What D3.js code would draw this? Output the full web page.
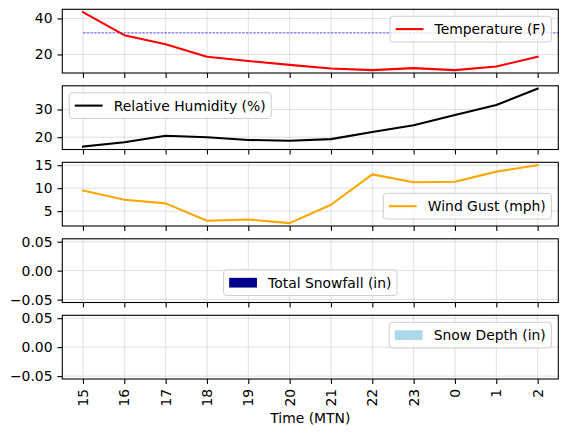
<!DOCTYPE html>
<html lang="en">
<head>
    <meta charset="utf-8">
    <title>Weather</title>
    <script type="text/javascript" src="https://d3js.org/d3.v7.min.js"></script>
    <style>
        body { margin: 0; background: white; }
        svg { display: block; font-family: "DejaVu Sans", sans-serif; }
        .grid line { stroke: #b0b0b0; stroke-opacity: 0.5; stroke-width: 0.8; }
    </style>
</head>
<body>
    <div id="chart"></div>
    <script type="text/javascript">
        // data
        const hours = ["15", "16", "17", "18", "19", "20", "21", "22", "23", "0", "1", "2"];
        const temperature = [43.5, 30.7, 25.7, 18.7, 16.4, 14.2, 12.2, 11.3, 12.4, 11.3, 13.3, 18.7];
        const humidity = [16.6, 18.2, 20.5, 20.0, 19.0, 18.7, 19.3, 21.9, 24.3, 28.0, 31.6, 37.5];
        const windGust = [9.5, 7.5, 6.7, 2.9, 3.2, 2.4, 6.4, 13.0, 11.3, 11.4, 13.6, 15.0];
        const snowfall = [0, 0, 0, 0, 0, 0, 0, 0, 0, 0, 0, 0];
        const snowDepth = [0, 0, 0, 0, 0, 0, 0, 0, 0, 0, 0, 0];
        const freezing = 32;

        const tempTicks = [20, 40];
        const humTicks = [20, 30];
        const windTicks = [5, 10, 15];
        const snowTicks = [-0.05, 0, 0.05];

        const width = 567;
        const height = 436;
        const fs = 13.9;
        const left = 62.3, right = 558.3;
        const top0 = 9.3, step = 76.5, ph = 63.7;

        const svg = d3.select("#chart")
            .append("svg")
            .attr("width", width)
            .attr("height", height);

        const x = d3.scalePoint().domain(hours).range([left, right]).padding(0.5);
        const xb = d3.scaleBand().domain(hours).range([left, right]).paddingInner(0.2).paddingOuter(0.1);

        function autoDomain(vals) {
            const lo = d3.min(vals), hi = d3.max(vals);
            if (lo === hi) return [lo - 0.055, hi + 0.055];
            const m = (hi - lo) * 0.05;
            return [lo - m, hi + m];
        }

        function panel(i, vals, ticks) {
            const top = top0 + i * step;
            const y = d3.scaleLinear().domain(autoDomain(vals)).range([top + ph, top]);
            const g = svg.append("g");

            // grid
            const grid = g.append("g").attr("class", "grid");
            grid.selectAll(".gx").data(hours).enter().append("line")
                .attr("x1", d => x(d)).attr("x2", d => x(d))
                .attr("y1", top).attr("y2", top + ph);
            grid.selectAll(".gy").data(ticks).enter().append("line")
                .attr("x1", left).attr("x2", right)
                .attr("y1", d => y(d)).attr("y2", d => y(d));

            // axes
            const yAxis = d3.axisLeft(y).tickValues(ticks).tickSize(4.9).tickPadding(4.9)
                .tickFormat(d => Math.abs(d) < 1 ? d3.format(".2f")(d).replace("-", "\u2212") : d);
            g.append("g").attr("transform", `translate(${left},0)`).call(yAxis)
                .call(a => a.select(".domain").remove())
                .call(a => a.selectAll("line").attr("stroke-width", 1.1))
                .call(a => a.selectAll("text").attr("font-size", fs).attr("font-family", "DejaVu Sans").attr("fill", "black"));

            const xAxis = d3.axisBottom(x).tickSize(4.9).tickFormat("");
            g.append("g").attr("transform", `translate(0,${top + ph})`).call(xAxis)
                .call(a => a.select(".domain").remove())
                .call(a => a.selectAll("line").attr("stroke-width", 1.1));

            return {g, y, top};
        }

        function frame(p) {
            p.g.append("rect")
                .attr("x", left).attr("y", p.top)
                .attr("width", right - left).attr("height", ph)
                .attr("fill", "none").attr("stroke", "black").attr("stroke-width", 1.1);
        }

        function drawLine(p, vals, color) {
            const line = d3.line().x((d, i) => x(hours[i])).y(d => p.y(d));
            p.g.append("path").datum(vals)
                .attr("d", line)
                .attr("fill", "none")
                .attr("stroke", color)
                .attr("stroke-width", 2.08)
                .attr("stroke-linejoin", "round")
                .attr("stroke-linecap", "square");
        }

        function drawBars(p, vals, color) {
            p.g.append("g").selectAll("rect").data(vals).enter().append("rect")
                .attr("x", (d, i) => xb(hours[i]))
                .attr("y", d => p.y(Math.max(0, d)))
                .attr("width", xb.bandwidth())
                .attr("height", d => Math.abs(p.y(d) - p.y(0)))
                .attr("fill", color);
        }

        function legend(p, loc, label, kind, color) {
            const pad = 0.4 * fs, hl = 2 * fs, htp = 0.8 * fs, bap = 0.5 * fs;
            const lg = p.g.append("g");
            const box = lg.append("rect");
            const txt = lg.append("text")
                .attr("font-size", fs)
                .attr("font-family", "DejaVu Sans")
                .attr("fill", "black")
                .text(label);
            const tw = txt.node().getComputedTextLength();
            const bw = pad + hl + htp + tw + pad;
            const bh = 2 * pad + fs * 1.05;
            let bx, by;
            if (loc === "upper right") { bx = right - bap - bw; by = p.top + bap; }
            else if (loc === "upper left") { bx = left + bap; by = p.top + bap; }
            else if (loc === "lower right") { bx = right - bap - bw; by = p.top + ph - bap - bh; }
            else { bx = (left + right) / 2 - bw / 2; by = p.top + ph - bap - bh; }
            box.attr("x", bx).attr("y", by).attr("width", bw).attr("height", bh)
                .attr("rx", 3).attr("fill", "white").attr("fill-opacity", 0.8)
                .attr("stroke", "#cccccc").attr("stroke-width", 1);
            const cy = by + bh / 2;
            txt.attr("x", bx + pad + hl + htp).attr("y", cy).attr("dy", "0.36em");
            if (kind === "line") {
                lg.append("line")
                    .attr("x1", bx + pad).attr("x2", bx + pad + hl)
                    .attr("y1", cy).attr("y2", cy)
                    .attr("stroke", color).attr("stroke-width", 2.08);
            } else {
                lg.append("rect")
                    .attr("x", bx + pad).attr("y", cy - 0.35 * fs)
                    .attr("width", hl).attr("height", 0.7 * fs)
                    .attr("fill", color);
            }
        }

        // temperature
        const p1 = panel(0, temperature, tempTicks);
        p1.g.append("line")
            .attr("x1", x(hours[0])).attr("x2", right)
            .attr("y1", p1.y(freezing)).attr("y2", p1.y(freezing))
            .attr("stroke", "blue").attr("stroke-width", 0.7)
            .attr("stroke-dasharray", "2.6,1.1");
        drawLine(p1, temperature, "red");
        frame(p1);
        legend(p1, "upper right", "Temperature (F)", "line", "red");

        // humidity
        const p2 = panel(1, humidity, humTicks);
        drawLine(p2, humidity, "black");
        frame(p2);
        legend(p2, "upper left", "Relative Humidity (%)", "line", "black");

        // wind gust
        const p3 = panel(2, windGust, windTicks);
        drawLine(p3, windGust, "orange");
        frame(p3);
        legend(p3, "lower right", "Wind Gust (mph)", "line", "orange");

        // snowfall
        const p4 = panel(3, snowfall, snowTicks);
        drawBars(p4, snowfall, "darkblue");
        frame(p4);
        legend(p4, "lower center", "Total Snowfall (in)", "patch", "darkblue");

        // snow depth
        const p5 = panel(4, snowDepth, snowTicks);
        drawBars(p5, snowDepth, "lightblue");
        frame(p5);
        legend(p5, "upper right", "Snow Depth (in)", "patch", "lightblue");

        // bottom tick labels
        const bottom = p5.top + ph;
        svg.append("g").selectAll("text").data(hours).enter().append("text")
            .attr("transform", d => `translate(${x(d)},${bottom + 9.8}) rotate(-90)`)
            .attr("text-anchor", "end")
            .attr("dy", "0.35em")
            .attr("font-size", fs)
            .attr("font-family", "DejaVu Sans")
            .text(d => d);

        svg.append("text")
            .attr("x", (left + right) / 2)
            .attr("y", 423)
            .attr("text-anchor", "middle")
            .attr("font-size", fs)
            .attr("font-family", "DejaVu Sans")
            .text("Time (MTN)");
    </script>
</body>
</html>
